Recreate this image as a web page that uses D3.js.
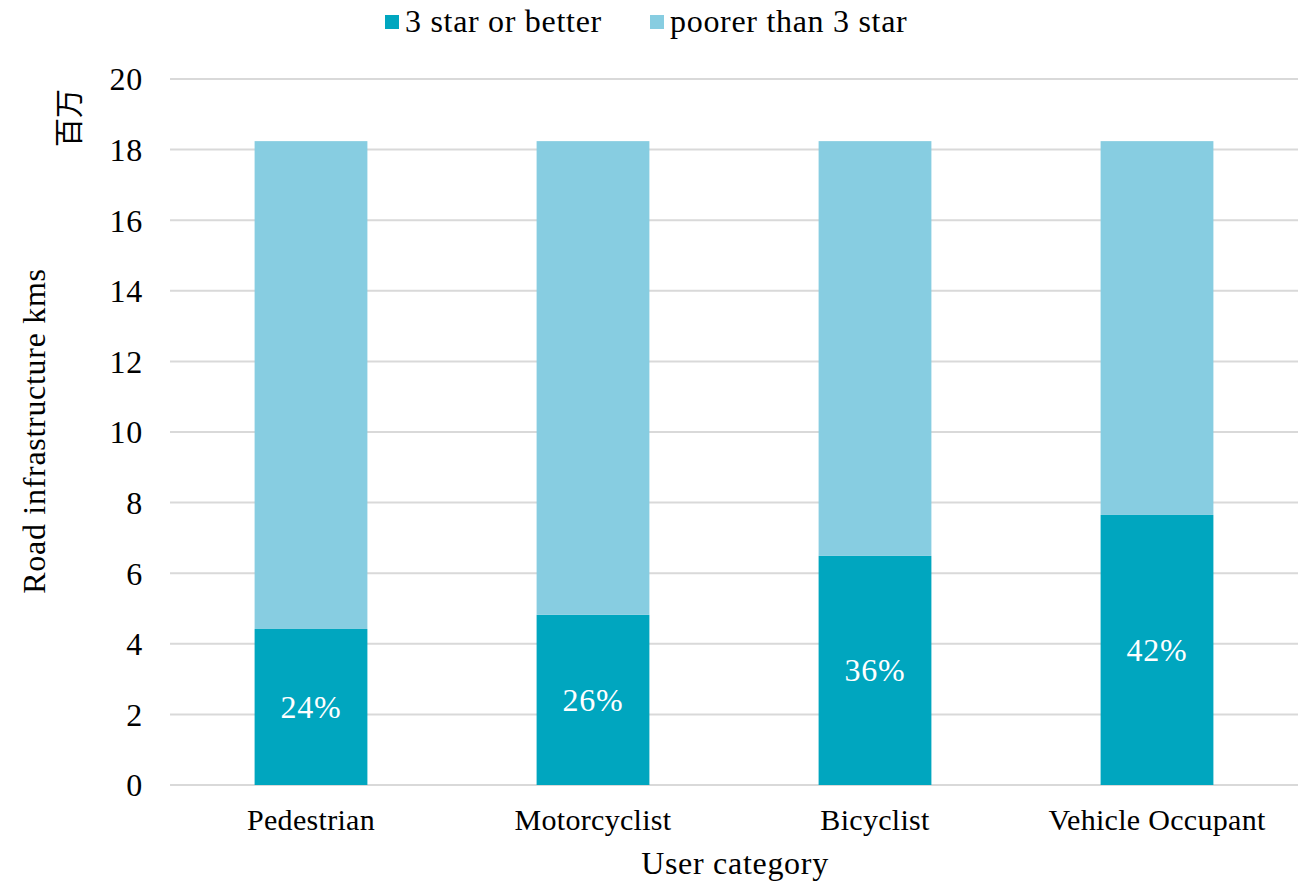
<!DOCTYPE html>
<html>
<head>
<meta charset="utf-8">
<script src="https://cdn.jsdelivr.net/npm/d3@7"></script>
<style>
  body { margin: 0; background: #fff; }
  text { font-family: "Liberation Serif", "Times New Roman", serif; fill: #000; letter-spacing: 0.7px; }
</style>
</head>
<body>
<div id="chart"></div>
<script>
// data (millions of km)
const categories = ["Pedestrian", "Motorcyclist", "Bicyclist", "Vehicle Occupant"];
const starOrBetter = [4.42, 4.82, 6.49, 7.65];
const poorerThan3 = [13.82, 13.42, 11.75, 10.59];
const pctLabels = ["24%", "26%", "36%", "42%"];
const seriesNames = ["3 star or better", "poorer than 3 star"];
const yTicks = [0, 2, 4, 6, 8, 10, 12, 14, 16, 18, 20];

const width = 1304, height = 881;
const colors = ["#00a6bf", "#87cde1"];

const svg = d3.select("#chart").append("svg")
    .attr("width", width)
    .attr("height", height);

const x = d3.scaleBand()
    .domain(categories)
    .range([170, 1298])
    .paddingInner(0.6)
    .paddingOuter(0.3);

const y = d3.scaleLinear().domain([0, 20]).range([785, 79]);

// gridlines
svg.append("g")
    .selectAll("line")
    .data(yTicks)
    .enter().append("line")
    .attr("x1", 170).attr("x2", 1298)
    .attr("y1", d => y(d)).attr("y2", d => y(d))
    .attr("stroke", "#d9d9d9")
    .attr("stroke-width", 2);

// stacked bars
const rows = categories.map((c, i) => ({ cat: c, a: starOrBetter[i], b: poorerThan3[i] }));
const stack = d3.stack().keys(["a", "b"])(rows);

svg.append("g")
    .selectAll("g")
    .data(stack)
    .enter().append("g")
    .attr("fill", (d, i) => colors[i])
    .selectAll("rect")
    .data(d => d)
    .enter().append("rect")
    .attr("x", d => x(d.data.cat))
    .attr("width", x.bandwidth())
    .attr("y", d => y(d[1]))
    .attr("height", d => y(d[0]) - y(d[1]));

// percent labels
svg.append("g")
    .selectAll("text")
    .data(rows)
    .enter().append("text")
    .attr("x", d => x(d.cat) + x.bandwidth() / 2)
    .attr("y", d => y(d.a / 2) + 11)
    .attr("text-anchor", "middle")
    .style("fill", "#fff")
    .style("font-size", "32px")
    .text((d, i) => pctLabels[i]);

// y axis
const yAxis = svg.append("g")
    .attr("transform", "translate(143,0)")
    .call(d3.axisLeft(y).tickValues(yTicks).tickSize(0).tickPadding(0));
yAxis.select(".domain").remove();
yAxis.selectAll("text")
    .style("font-family", "'Liberation Serif', serif")
    .style("font-size", "32px")
    .attr("dy", "0.34em");

// x axis
const xAxis = svg.append("g")
    .attr("transform", "translate(0,801)")
    .call(d3.axisBottom(x).tickSize(0).tickPadding(0));
xAxis.select(".domain").remove();
xAxis.selectAll("text")
    .style("font-family", "'Liberation Serif', serif")
    .style("font-size", "30px")
    .style("letter-spacing", "0.3px")
    .attr("dy", "0.95em");

// axis titles
svg.append("text")
    .attr("x", 735).attr("y", 874)
    .attr("text-anchor", "middle")
    .style("font-size", "32px")
    .text("User category");

svg.append("text")
    .attr("transform", "translate(45,431) rotate(-90)")
    .attr("text-anchor", "middle")
    .style("font-size", "32px")
    .text("Road infrastructure kms");

svg.append("text")
    .attr("transform", "translate(80,118) rotate(-90)")
    .attr("text-anchor", "middle")
    .style("font-family", "'Noto Sans CJK SC', sans-serif")
    .style("font-size", "29px")
    .style("letter-spacing", "0px")
    .text("百万");

// legend
const legendX = [385, 650];
const legend = svg.append("g")
    .selectAll("g")
    .data(seriesNames)
    .enter().append("g")
    .attr("transform", (d, i) => "translate(" + legendX[i] + ",15)");
legend.append("rect")
    .attr("width", 14).attr("height", 14)
    .attr("fill", (d, i) => colors[i]);
legend.append("text")
    .attr("x", 20).attr("y", 17)
    .style("font-size", "32px")
    .text(d => d);
</script>
</body>
</html>
